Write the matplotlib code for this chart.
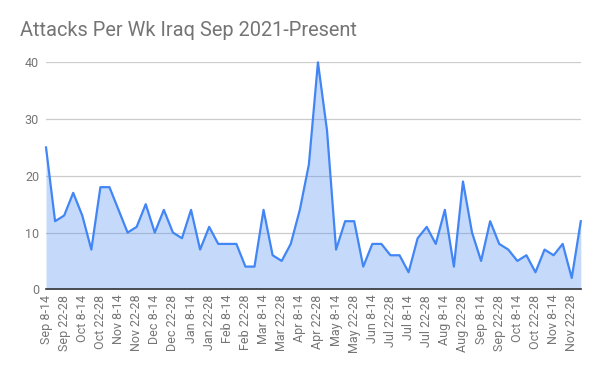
import matplotlib
matplotlib.use("Agg")
import matplotlib.pyplot as plt
import numpy as np

plt.rcParams["font.family"] = ["Roboto", "DejaVu Sans"]

# weekly attack counts, Sep 2021 - Nov 2022
attacks = [
    25, 12, 13, 17, 13, 7, 18, 18, 14, 10,
    11, 15, 10, 14, 10, 9, 14, 7, 11, 8,
    8, 8, 4, 4, 14, 6, 5, 8, 14, 22,
    40, 28, 7, 12, 12, 4, 8, 8, 6, 6,
    3, 9, 11, 8, 14, 4, 19, 10, 5, 12,
    8, 7, 5, 6, 3, 7, 6, 8, 2, 12,
]
week_labels = [
    "Sep 8-14", "Sep 22-28", "Oct 8-14", "Oct 22-28", "Nov 8-14",
    "Nov 22-28", "Dec 8-14", "Dec 22-28", "Jan 8-14", "Jan 22-28",
    "Feb 8-14", "Feb 22-28", "Mar 8-14", "Mar 22-28", "Apr 8-14",
    "Apr 22-28", "May 8-14", "May 22-28", "Jun 8-14", "Jul 22-28",
    "Jul 8-14", "Jul 22-28", "Aug 8-14", "Aug 22-28", "Sep 8-14",
    "Sep 22-28", "Oct 8-14", "Oct 22-28", "Nov 8-14", "Nov 22-28",
]
y_ticks = [0, 10, 20, 30, 40]

LINE = "#4285F4"
GREY = "#757575"

fig = plt.figure(figsize=(6, 3.71), dpi=100)
fig.patch.set_facecolor("white")
ax = fig.add_axes([0.0767, 0.2202, 0.8913, 0.6118])

x = np.arange(len(attacks))
ax.fill_between(x, attacks, 0, color=LINE, alpha=0.3, linewidth=0)
ax.plot(x, attacks, color=LINE, linewidth=1.6, clip_on=False, zorder=3)

ax.set_xlim(0, len(attacks) - 1)
ax.set_ylim(0, 40)
ax.set_yticks(y_ticks)
ax.set_yticklabels([str(t) for t in y_ticks])
ax.set_xticks(x[::2])
ax.set_xticklabels(week_labels, rotation=90, ha="center", va="top")

ax.grid(axis="y", color="#cccccc", linewidth=0.9)
ax.set_axisbelow(True)
for side in ["top", "right", "left"]:
    ax.spines[side].set_visible(False)
ax.spines["bottom"].set_color("#333333")
ax.spines["bottom"].set_linewidth(1.2)
ax.spines["bottom"].set_zorder(4)

ax.tick_params(axis="both", length=0, labelsize=9, colors=GREY)
ax.tick_params(axis="y", pad=5)
ax.tick_params(axis="x", pad=4)

fig.text(0.033, 0.918, "Attacks Per Wk Iraq Sep 2021-Present",
         fontsize=14.4, color=GREY, ha="left", va="center")

fig.savefig("out.png", dpi=100, facecolor="white")
